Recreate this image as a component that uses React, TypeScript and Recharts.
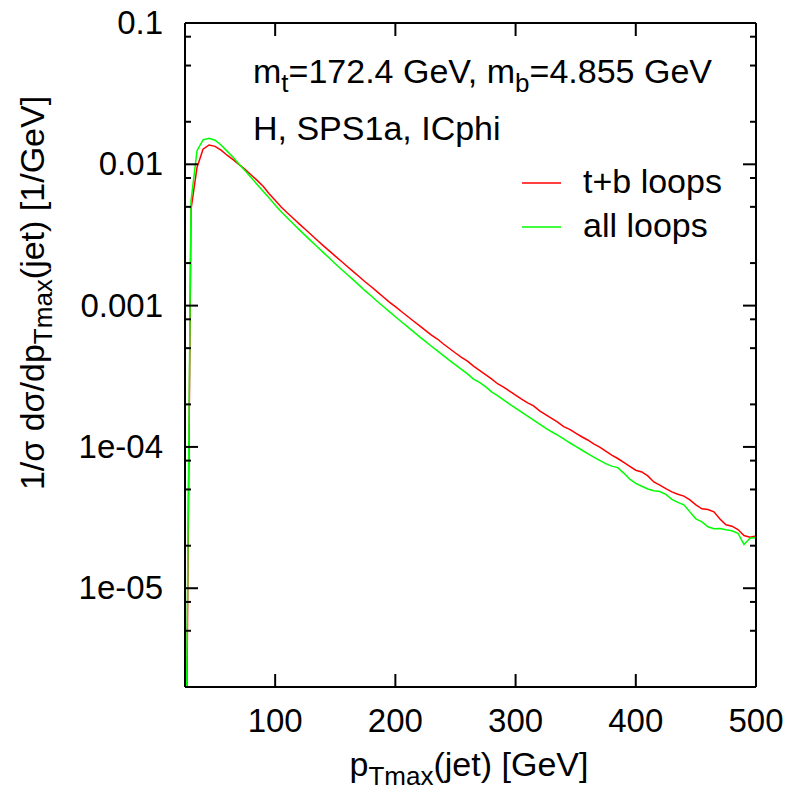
import { LineChart, Line, XAxis, YAxis } from 'recharts';

const FONT = '"Liberation Sans", Arial, Helvetica, sans-serif';

// pT bins [GeV]
const ptBins = [
  25, 30, 35, 40, 45, 50, 55, 60, 65, 70, 75, 80, 85, 90, 95, 100,
  105, 110, 115, 120, 125, 130, 135, 140, 145, 150, 155, 160, 165, 170, 175, 180,
  185, 190, 195, 200, 205, 210, 215, 220, 225, 230, 235, 240, 245, 250, 255, 260,
  265, 270, 275, 280, 285, 290, 295, 300, 305, 310, 315, 320, 325, 330, 335, 340,
  345, 350, 355, 360, 365, 370, 375, 380, 385, 390, 395, 400, 405, 410, 415, 420,
  425, 430, 435, 440, 445, 450, 455, 460, 465, 470, 475, 480, 485, 490, 495, 500,
];

// t+b loops
const tbLoops = [
  5e-8, 4.8e-3, 9.5e-3, 1.28e-2, 1.37e-2, 1.34e-2, 1.26e-2, 1.16e-2, 1.08e-2, 9.95e-3, 9.2e-3, 8.4e-3, 7.7e-3, 7.0e-3, 6.2e-3, 5.56e-3,
  4.98e-3, 4.54e-3, 4.15e-3, 3.79e-3, 3.47e-3, 3.17e-3, 2.9e-3, 2.66e-3, 2.44e-3, 2.24e-3, 2.06e-3, 1.89e-3, 1.74e-3, 1.6e-3, 1.47e-3, 1.36e-3,
  1.25e-3, 1.15e-3, 1.06e-3, 9.84e-4, 9.08e-4, 8.41e-4, 7.78e-4, 7.21e-4, 6.68e-4, 6.19e-4, 5.8e-4, 5.35e-4, 4.97e-4, 4.62e-4, 4.31e-4, 4.05e-4,
  3.73e-4, 3.48e-4, 3.25e-4, 3.03e-4, 2.8e-4, 2.65e-4, 2.48e-4, 2.33e-4, 2.18e-4, 2.05e-4, 1.95e-4, 1.8e-4, 1.69e-4, 1.59e-4, 1.5e-4, 1.39e-4,
  1.33e-4, 1.25e-4, 1.18e-4, 1.12e-4, 1.05e-4, 9.98e-5, 9.33e-5, 8.75e-5, 8.28e-5, 7.76e-5, 7.28e-5, 6.84e-5, 6.65e-5, 6.24e-5, 5.65e-5, 5.37e-5,
  5.07e-5, 4.81e-5, 4.63e-5, 4.49e-5, 4.22e-5, 3.89e-5, 3.65e-5, 3.61e-5, 3.47e-5, 3.09e-5, 2.81e-5, 2.75e-5, 2.6e-5, 2.36e-5, 2.3e-5, 2.34e-5,
];

// all loops
const allLoops = [
  1e-7, 5.5e-3, 1.25e-2, 1.49e-2, 1.53e-2, 1.48e-2, 1.37e-2, 1.24e-2, 1.12e-2, 1.0e-2, 9.0e-3, 8.05e-3, 7.21e-3, 6.44e-3, 5.77e-3, 5.16e-3,
  4.61e-3, 4.19e-3, 3.8e-3, 3.45e-3, 3.14e-3, 2.86e-3, 2.61e-3, 2.38e-3, 2.17e-3, 1.98e-3, 1.81e-3, 1.66e-3, 1.52e-3, 1.39e-3, 1.27e-3, 1.17e-3,
  1.07e-3, 9.86e-4, 9.06e-4, 8.34e-4, 7.69e-4, 7.1e-4, 6.55e-4, 6.04e-4, 5.58e-4, 5.16e-4, 4.78e-4, 4.43e-4, 4.1e-4, 3.81e-4, 3.54e-4, 3.29e-4,
  3.02e-4, 2.86e-4, 2.67e-4, 2.45e-4, 2.31e-4, 2.15e-4, 2.01e-4, 1.88e-4, 1.76e-4, 1.65e-4, 1.55e-4, 1.45e-4, 1.36e-4, 1.28e-4, 1.21e-4, 1.14e-4,
  1.07e-4, 1.01e-4, 9.51e-5, 8.97e-5, 8.47e-5, 8.02e-5, 7.62e-5, 7.31e-5, 7.14e-5, 6.53e-5, 5.92e-5, 5.52e-5, 5.27e-5, 5.04e-5, 4.9e-5, 4.84e-5,
  4.62e-5, 4.25e-5, 4.05e-5, 3.89e-5, 3.47e-5, 3.1e-5, 2.95e-5, 2.72e-5, 2.64e-5, 2.65e-5, 2.59e-5, 2.55e-5, 2.45e-5, 2.04e-5, 2.26e-5, 2.29e-5,
];

const xTicks = [100, 200, 300, 400, 500];
const yTicks = [
  2e-6, 5e-6, 8e-6, 1e-5, 2e-5, 5e-5, 8e-5, 1e-4, 2e-4, 5e-4, 8e-4,
  1e-3, 2e-3, 5e-3, 8e-3, 1e-2, 2e-2, 5e-2, 8e-2, 0.1,
];
const yMajorLabels = ['1e-05', '1e-04', '0.001', '0.01', '0.1'];
const yMajorValues = [1e-5, 1e-4, 1e-3, 1e-2, 0.1];

const data = ptBins.map((pt, i) => ({ pt, tb: tbLoops[i], all: allLoops[i] }));

const majorIndex = (v: number) => yMajorValues.findIndex((m) => Math.abs(m - v) / m < 1e-6);

const LeftTick = (p: any) => {
  const i = majorIndex(p.payload.value);
  return (
    <g>
      <line x1={p.x} x2={p.x + (i >= 0 ? 13 : 6)} y1={p.y} y2={p.y} stroke="#000" strokeWidth={2} />
      {i >= 0 && (
        <text x={p.x - 22} y={p.y + 11} textAnchor="end" fontSize={33} fontFamily={FONT} fill="#000">
          {yMajorLabels[i]}
        </text>
      )}
    </g>
  );
};

const RightTick = (p: any) => {
  const i = majorIndex(p.payload.value);
  return <line x1={p.x} x2={p.x - (i >= 0 ? 13 : 6)} y1={p.y} y2={p.y} stroke="#000" strokeWidth={2} />;
};

const BottomTick = (p: any) => (
  <g>
    <line x1={p.x} x2={p.x} y1={p.y} y2={p.y - 13} stroke="#000" strokeWidth={2} />
    <text x={p.x} y={p.y + 45} textAnchor="middle" fontSize={33} fontFamily={FONT} fill="#000">
      {p.payload.value}
    </text>
  </g>
);

const TopTick = (p: any) => (
  <line x1={p.x} x2={p.x} y1={p.y} y2={p.y + 13} stroke="#000" strokeWidth={2} />
);

const frame = { stroke: '#000', strokeWidth: 2 };

export default function App() {
  return (
    <div style={{ position: 'absolute', left: 0, top: 0, width: 796, height: 790, background: '#fff' }}>
      <LineChart width={796} height={790} data={data} margin={{ top: 0, right: 0, bottom: 0, left: 0 }}>
        <XAxis dataKey="pt" type="number" domain={[25, 500]} ticks={xTicks} allowDataOverflow
          height={103} axisLine={frame} tickLine={false} tickSize={0} tickMargin={0} interval={0} tick={BottomTick} />
        <XAxis xAxisId="top" orientation="top" dataKey="pt" type="number" domain={[25, 500]} ticks={xTicks} allowDataOverflow
          height={23} axisLine={frame} tickLine={false} tickSize={0} tickMargin={0} interval={0} tick={TopTick} />
        <YAxis scale="log" type="number" domain={[2e-6, 0.1]} ticks={yTicks} allowDataOverflow
          width={185} axisLine={frame} tickLine={false} tickSize={0} tickMargin={0} interval={0} tick={LeftTick} />
        <YAxis yAxisId="right" orientation="right" scale="log" type="number" domain={[2e-6, 0.1]} ticks={yTicks} allowDataOverflow
          width={40} axisLine={frame} tickLine={false} tickSize={0} tickMargin={0} interval={0} tick={RightTick} />
        <Line dataKey="tb" stroke="#ff0000" strokeWidth={1.5} dot={false} isAnimationActive={false} />
        <Line dataKey="all" stroke="#00ff00" strokeWidth={1.5} dot={false} isAnimationActive={false} />
      </LineChart>
      <svg width={796} height={790} style={{ position: 'absolute', left: 0, top: 0, pointerEvents: 'none' }}
        fontFamily={FONT} fontSize={34} fill="#000">
        <text transform="translate(44,293) rotate(-90)" textAnchor="middle">
          1/σ dσ/dp<tspan dy={8} fontSize={26}>Tmax</tspan><tspan dy={-8}>(jet) [1/GeV]</tspan>
        </text>
        <text x={469} y={776} textAnchor="middle">
          p<tspan dy={9} fontSize={26}>Tmax</tspan><tspan dy={-9}>(jet) [GeV]</tspan>
        </text>
        <text x={253} y={83}>
          m<tspan dy={9} fontSize={26}>t</tspan><tspan dy={-9}>=172.4 GeV, m</tspan><tspan dy={9} fontSize={26}>b</tspan><tspan dy={-9}>=4.855 GeV</tspan>
        </text>
        <text x={253} y={140}>H, SPS1a, ICphi</text>
        <line x1={522} x2={561} y1={183} y2={183} stroke="#ff0000" strokeWidth={1.5} />
        <text x={583} y={193}>t+b loops</text>
        <line x1={522} x2={561} y1={227} y2={227} stroke="#00ff00" strokeWidth={1.5} />
        <text x={583} y={237}>all loops</text>
      </svg>
    </div>
  );
}
